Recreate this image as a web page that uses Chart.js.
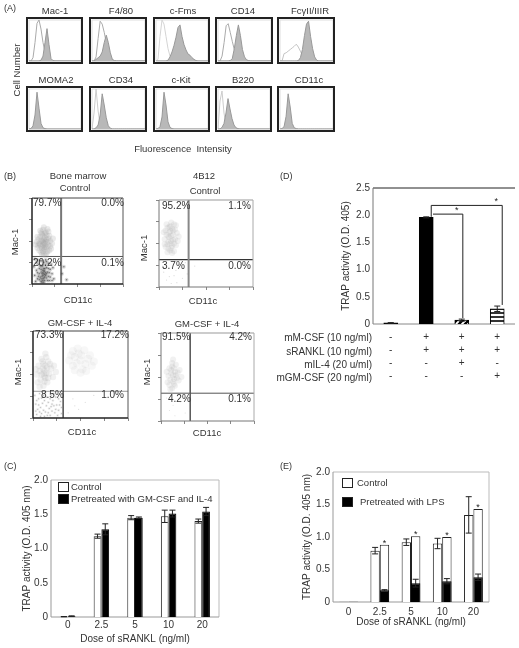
<!DOCTYPE html>
<html>
<head>
<meta charset="utf-8">
<title>Figure</title>
<script src="https://cdn.jsdelivr.net/npm/chart.js@4"></script>
<style>
html,body{margin:0;padding:0;background:#fff;}
#page{position:relative;width:519px;height:648px;overflow:hidden;font-family:"Liberation Sans",Arial,sans-serif;color:#333;filter:blur(0.35px);}
canvas{position:absolute;}
.t{position:absolute;white-space:pre;line-height:1;}
</style>
</head>
<body>
<div id="page"></div>
<script>
// panel A histograms, one count per channel bin
var macFill =  [0,0,0,0,0,0,2,12,45,79,40,6,1,0,0,0,0,0,0,0,0,0,0,0,0,0,0];
var macOpen =  [0,0,8,45,92,100,78,45,22,8,2,0,0,0,0,0,0,0,0,0,0,0,0,0,0,0,0];
var f480Fill = [0,0,4,8,12,22,45,63,45,20,4,1,0,0,0,0,0,0,0,0,0,0,0,0,0,0,0];
var f480Open = [0,0,10,55,97,90,70,45,25,10,3,0,0,0,0,0,0,0,0,0,0,0,0,0,0,0,0];
var fmsFill =  [0,0,0,0,0,0,2,10,22,38,58,82,88,60,40,27,17,14,8,4,1,0,0,0,0,0,0];
var fmsOpen =  [0,4,60,100,90,60,30,12,5,2,0,0,0,0,0,0,0,0,0,0,0,0,0,0,0,0,0];
var cd14Fill = [0,0,0,0,0,0,1,6,30,62,88,62,28,10,3,1,0,0,0,0,0,0,0,0,0,0,0];
var cd14Open = [0,0,12,45,86,91,70,48,28,14,6,2,0,0,0,0,0,0,0,0,0,0,0,0,0,0,0];
var fcFill =   [0,0,0,0,0,0,0,0,0,1,8,28,62,90,97,60,30,10,2,0,0,0,0,0,0,0,0];
var fcOpen =   [0,0,18,20,24,28,32,36,41,34,24,14,6,2,0,0,0,0,0,0,0,0,0,0,0,0,0];
var momaFill = [0,1,8,35,92,52,14,3,1,0,0,0,0,0,0,0,0,0,0,0,0,0,0,0,0,0,0];
var cd34Fill = [0,0,3,10,35,88,60,28,8,2,0,0,0,0,0,0,0,0,0,0,0,0,0,0,0,0,0];
var cd34Open = [0,40,100,45,10,2,0,0,0,0,0,0,0,0,0,0,0,0,0,0,0,0,0,0,0,0,0];
var kitFill =  [0,1,6,30,92,60,18,4,1,0,0,0,0,0,0,0,0,0,0,0,0,0,0,0,0,0,0];
var b220Fill = [0,0,4,14,40,76,50,26,10,3,1,0,0,0,0,0,0,0,0,0,0,0,0,0,0,0,0];
var b220Open = [0,70,95,40,8,0,0,0,0,0,0,0,0,0,0,0,0,0,0,0,0,0,0,0,0,0,0];
var cd11Fill = [0,1,6,32,88,55,14,3,1,0,0,0,0,0,0,0,0,0,0,0,0,0,0,0,0,0,0];
var histBins = macFill.map(function(v,i){return i;});

// panel B events as [CD11c, Mac-1] in plot percent
var bmUpper = [[13,48],[10,44],[16,52],[12,56],[8,47],[18,45],[14,40],[11,51],[15,60],[9,55],[17,38],[13,35],[6,42],[20,50],[7,52],[19,56],[12,63],[16,43],[10,37],[14,54],[11,41],[18,61],[5,49],[22,47],[13,66],[9,62],[15,33],[21,41],[8,39],[17,49],[12,45],[14,47],[10,50],[16,57],[13,52],[11,58],[15,46],[9,46],[18,53],[7,45],[20,44],[12,38],[14,59],[16,36],[6,55],[19,39],[10,60],[13,42],[11,34],[17,64],[4,46],[23,53],[15,50],[12,49],[14,43]];
var bmLower = [[13,12],[11,9],[14,15],[12,6],[15,10],[10,14],[13,18],[16,7],[9,8],[12,13],[14,4],[11,20],[17,14],[8,12],[15,22],[6,6],[18,9],[13,25],[10,3],[20,17],[5,16],[12,16],[14,8],[16,19],[7,23],[19,4],[3,10],[22,12],[11,27],[16,26],[8,18],[4,3],[21,23],[13,2],[9,21],[18,24],[6,28],[24,6],[2,20],[15,13],[12,10],[13,7],[14,11],[11,12],[10,6],[17,4],[7,9],[19,13],[5,25],[23,19],[15,28],[9,27],[12,22],[14,18],[10,17],[16,12],[8,5],[6,13],[20,8],[13,15],[12,4],[3,29],[18,18],[11,2],[22,4],[33,12],[38,5],[35,20]];
var b12Upper = [[13,59],[10,52],[15,65],[12,70],[8,60],[17,55],[14,47],[11,63],[16,72],[9,68],[18,48],[12,42],[6,55],[19,62],[7,46],[13,74],[15,54],[10,44],[14,67],[11,57],[17,66],[5,63],[20,53],[12,50],[9,40],[16,41],[8,72],[13,53],[11,69],[15,60],[10,58],[14,39],[7,65],[18,71],[12,64],[16,50],[9,49],[13,45],[21,58],[6,49]];
var b12Lower = [[8,8],[14,22],[19,5],[5,17],[11,12],[22,26],[16,13],[7,26],[25,10],[13,4],[4,24],[18,19],[30,15],[38,24],[28,28]];
var gmUpperLeft = [[12,55],[9,50],[15,58],[11,62],[7,54],[17,51],[13,46],[10,65],[14,70],[6,60],[19,57],[12,42],[8,44],[16,65],[11,37],[21,47],[4,50],[13,74],[15,41],[10,57],[18,62],[5,41],[9,68],[14,52],[22,60],[12,48],[16,46],[7,36],[11,51],[13,60],[24,53],[3,56]];
var gmUpperRight = [[50,66],[44,70],[55,62],[48,74],[42,60],[58,68],[52,56],[46,63],[60,72],[40,72],[54,78],[50,52],[62,60],[38,66],[47,80],[56,54],[44,55],[64,65],[51,72],[42,77]];
var gmLowerLeft = [[4,4],[8,12],[13,7],[18,3],[22,14],[27,9],[6,22],[11,26],[16,18],[24,24],[29,19],[3,16],[9,5],[14,14],[20,8],[26,3],[7,28],[12,20],[19,26],[30,5],[5,10],[10,17],[15,3],[21,20],[28,27],[2,26],[17,11],[23,6],[13,29],[8,2],[25,15],[11,9],[18,22],[30,12],[4,20],[16,6],[22,28],[6,15],[20,16],[27,22],[9,23],[14,24],[24,10],[3,8],[12,2],[28,15],[19,13],[7,7]];
var gmLowerRight = [[42,22],[48,10],[55,18],[37,6],[64,26],[44,14]];
var gm12Upper = [[13,52],[10,47],[15,56],[12,62],[8,51],[17,49],[14,42],[11,58],[16,64],[9,60],[19,46],[12,37],[7,44],[18,55],[13,70],[15,40],[10,36],[14,48],[11,54],[20,58],[6,56],[13,45],[16,52],[9,41],[12,66],[22,50],[14,60]];
var gm12Lower = [[9,12],[15,6],[21,22],[6,26],[13,18],[26,9]];

// panel C
var doses = ['0','2.5','5','10','20'];
var gmControl = [0.005,1.18,1.45,1.47,1.40];
var gmControlErr = [0.002,0.03,0.03,0.09,0.03];
var gmTreated = [0.012,1.28,1.45,1.51,1.54];
var gmTreatedErr = [0.005,0.08,0.01,0.05,0.06];

// panel D
var trapGroups = ['none','mM-CSF + sRANKL','+ mIL-4','+ mGM-CSF'];
var trapValues = [0.02,1.96,0.07,0.28];
var trapErr = [0.005,0.01,0.02,0.05];
var rowNames = ['mM-CSF (10 ng/ml)','sRANKL (10 ng/ml)','mIL-4 (20 u/ml)','mGM-CSF (20 ng/ml)'];
var rowMcsf =  ['-','+','+','+'];
var rowRankl = ['-','+','+','+'];
var rowIl4 =   ['-','-','+','-'];
var rowGm =    ['-','-','-','+'];
var bracketFrom =  [1.19,1.14];
var bracketTo =    [2.03,3.14];
var bracketLevel = [2.02,2.18];
var bracketFootL = [2.02,1.97];
var bracketFootR = [0.11,0.35];

// panel E
var lpsLeft = [0.003,0.79,0.92,0.90,1.34];
var lpsLeftErr = [0,0.05,0.05,0.08,0.28];
var lpsRight = [0.003,0.88,1.01,1.00,1.43];
var lpsTreated = [0.002,0.18,0.29,0.32,0.38];
var lpsTreatedErr = [0,0.01,0.06,0.04,0.05];
var lpsStars = [null,0.93,1.06,1.05,1.48];

var page = document.getElementById('page');
var FONT = '"Liberation Sans",Arial,sans-serif';

Chart.defaults.font.family = FONT;
Chart.defaults.color = '#333';
Chart.defaults.animation = false;
Chart.defaults.responsive = false;
Chart.defaults.plugins.legend.display = false;
Chart.defaults.plugins.tooltip.enabled = false;

// x,y is the anchor: align l/c/r, vertically centred
function label(text, x, y, align, size, rotate) {
    var d = document.createElement('div');
    d.className = 't';
    d.textContent = text;
    d.style.left = x + 'px';
    d.style.top = y + 'px';
    d.style.fontSize = (size || 9.5) + 'px';
    var tx = align === 'r' ? '-100%' : (align === 'l' ? '0' : '-50%');
    d.style.transform = 'translate(' + tx + ',-50%)' + (rotate ? ' rotate(-90deg)' : '');
    page.appendChild(d);
}

function makeCanvas(x, y, w, h) {
    var c = document.createElement('canvas');
    c.width = w;
    c.height = h;
    c.style.left = x + 'px';
    c.style.top = y + 'px';
    page.appendChild(c);
    return c.getContext('2d');
}

// plot border, side by side so panels can differ
var framePlugin = {
    id: 'frame',
    beforeDatasetsDraw: function(chart, args, o) {
        if (o.under) drawFrame(chart, o.under);
    },
    afterDatasetsDraw: function(chart, args, o) {
        if (o.over) drawFrame(chart, o.over);
    }
};
function drawFrame(chart, sides) {
    var a = chart.chartArea, ctx = chart.ctx;
    var pts = {
        top: [a.left, a.top, a.right, a.top],
        right: [a.right, a.top, a.right, a.bottom],
        bottom: [a.left, a.bottom, a.right, a.bottom],
        left: [a.left, a.top, a.left, a.bottom]
    };
    ctx.save();
    Object.keys(sides).forEach(function(k) {
        var p = pts[k];
        ctx.strokeStyle = sides[k][0];
        ctx.lineWidth = sides[k][1];
        ctx.beginPath();
        ctx.moveTo(p[0], p[1]);
        ctx.lineTo(p[2], p[3]);
        ctx.stroke();
    });
    ctx.restore();
}

// error bars, read from dataset.err
var errorPlugin = {
    id: 'errbars',
    afterDatasetsDraw: function(chart) {
        var ctx = chart.ctx, y = chart.scales.y;
        ctx.save();
        ctx.strokeStyle = '#222';
        ctx.lineWidth = 1;
        chart.data.datasets.forEach(function(ds, i) {
            if (!ds.err) return;
            chart.getDatasetMeta(i).data.forEach(function(bar, j) {
                if (!ds.err[j]) return;
                var up = y.getPixelForValue(ds.data[j] + ds.err[j]);
                var dn = y.getPixelForValue(ds.data[j] - ds.err[j]);
                ctx.beginPath();
                ctx.moveTo(bar.x - 3, up); ctx.lineTo(bar.x + 3, up);
                ctx.moveTo(bar.x, up); ctx.lineTo(bar.x, dn);
                ctx.moveTo(bar.x - 3, dn); ctx.lineTo(bar.x + 3, dn);
                ctx.stroke();
            });
        });
        ctx.restore();
    }
};

// ---- panel A
function histogram(frame, series) {
    var w = frame[2] - frame[0], h = frame[3] - frame[1];
    var sets = [{
        data: series[0], fill: 'origin', backgroundColor: '#b8b8b8',
        borderColor: '#999', borderWidth: 1, pointRadius: 0
    }];
    if (series[1]) {
        sets.push({
            data: series[1], fill: false, borderColor: series[2] || '#aaa',
            borderWidth: 1, pointRadius: 0
        });
    }
    new Chart(makeCanvas(frame[0], frame[1], w, h), {
        type: 'line',
        data: { labels: histBins, datasets: sets },
        options: {
            layout: { padding: { left: 3, right: 2, top: 3, bottom: 3 } },
            scales: {
                x: { display: false, offset: false },
                y: { display: false, min: 0, max: 100 }
            },
            plugins: {
                frame: { under: { top: ['#ddd', 1], right: ['#ddd', 1], left: ['#ddd', 1], bottom: ['#bbb', 1] } }
            }
        },
        plugins: [framePlugin, {
            id: 'outer',
            afterDraw: function(chart) {
                var c = chart.ctx;
                c.save();
                c.strokeStyle = '#222';
                c.lineWidth = 2;
                c.strokeRect(1, 1, w - 2, h - 2);
                c.restore();
            }
        }]
    });
}
var histTitles = ['Mac-1','F4/80','c-Fms','CD14','Fc\u03b3II/IIIR','MOMA2','CD34','c-Kit','B220','CD11c'];
var histX = [[26,83],[89,147],[153,210],[215,273],[277,335],[26,83],[89,147],[153,210],[215,272],[277,335]];
var histTitleX = [55,121,183,243,310,56,121,181,243,309];
var histSeries = [
    [macFill,macOpen,'#aaa'],[f480Fill,f480Open,'#aaa'],[fmsFill,fmsOpen,'#d4d4d4'],[cd14Fill,cd14Open,'#aaa'],[fcFill,fcOpen,'#c4c4c4'],
    [momaFill],[cd34Fill,cd34Open,'#ccc'],[kitFill],[b220Fill,b220Open,'#ccc'],[cd11Fill]
];
histTitles.forEach(function(t, i) {
    var top = i < 5;
    histogram([histX[i][0], top ? 17 : 86, histX[i][1], top ? 64 : 132], histSeries[i]);
    label(t, histTitleX[i], top ? 11 : 80, 'c');
});
label('Cell Number', 17, 70, 'c', 9.5, true);
label('Fluorescence  Intensity', 183, 149, 'c');

// ---- panel B
function flowPlot(frame, layers, gates, border) {
    var ml = 5, mt = 1, mr = 1, mb = 4;
    var sets = layers.map(function(l) {
        return { data: l[0], backgroundColor: l[1], pointRadius: l[2], pointBorderWidth: 0, showLine: false };
    });
    sets.push({ data: [[gates[0],0],[gates[0],100]], showLine: true, borderColor: gates[2], borderWidth: gates[3], pointRadius: 0 });
    sets.push({ data: [[0,gates[1]],[100,gates[1]]], showLine: true, borderColor: gates[4], borderWidth: gates[5], pointRadius: 0 });
    var axis = function(fit) {
        return {
            min: 0, max: 100,
            border: { display: false },
            grid: { drawOnChartArea: false, tickLength: 3, color: '#888' },
            ticks: { display: false, stepSize: 25 },
            afterFit: fit
        };
    };
    new Chart(makeCanvas(frame[0] - ml, frame[1] - mt, frame[2] - frame[0] + ml + mr, frame[3] - frame[1] + mt + mb), {
        type: 'scatter',
        data: { datasets: sets },
        options: {
            layout: { padding: { top: mt, right: mr } },
            scales: {
                x: axis(function(s) { s.height = mb; }),
                y: axis(function(s) { s.width = ml; })
            },
            plugins: { frame: { over: border } }
        },
        plugins: [framePlugin]
    });
}
var cloud = 'rgba(160,160,160,0.22)', pale = 'rgba(170,170,170,0.16)', faint = 'rgba(170,170,170,0.09)', speck = 'rgba(30,30,30,0.55)', dust = 'rgba(90,90,90,0.22)', haze = 'rgba(110,110,110,0.14)';
var darkBorder = { top: ['#444',1], right: ['#555',1], bottom: ['#222',1.5], left: ['#222',1.5] };
var greyBorder = { top: ['#999',1], right: ['#aaa',1], bottom: ['#777',1], left: ['#777',1] };

flowPlot([32,195,126,284], [[bmUpper,cloud,3],[bmLower,dust,2],[bmLower,speck,0.8]], [32,32,'#777',2,'#555',1], darkBorder);
flowPlot([159,197,256,287], [[b12Upper,pale,3],[b12Lower,dust,0.6]], [31.5,31.5,'#888',2,'#333',1.2], greyBorder);
flowPlot([33,328,131,418], [[gmUpperLeft,pale,3.2],[gmUpperRight,faint,4],[gmLowerLeft,haze,1.3],[gmLowerLeft,speck,0.4],[gmLowerRight,dust,0.6]], [31.7,30.7,'#222',1.2,'#999',1], darkBorder);
flowPlot([161,330,257,421], [[gm12Upper,pale,3],[gm12Lower,dust,0.5]], [31.4,31.6,'#555',1.5,'#555',1], greyBorder);

var flowLabels = [
    ['79.7%',33,203,'l'],['0.0%',124,203,'r'],['20.2%',33,263,'l'],['0.1%',124,263,'r'],
    ['95.2%',162,206,'l'],['1.1%',251,206,'r'],['3.7%',162,266,'l'],['0.0%',251,266,'r'],
    ['73.3%',35,335,'l'],['17.2%',129,335,'r'],['8.5%',41,395,'l'],['1.0%',124,395,'r'],
    ['91.5%',162,337,'l'],['4.2%',252,337,'r'],['4.2%',168,399,'l'],['0.1%',251,399,'r']
];
flowLabels.forEach(function(l) { label(l[0], l[1], l[2], l[3], 10); });
label('Bone marrow', 78, 176, 'c');
label('Control', 75, 188, 'c');
label('4B12', 204, 176, 'c');
label('Control', 205, 191, 'c');
label('GM-CSF + IL-4', 80, 323, 'c');
label('GM-CSF + IL-4', 207, 324, 'c');
[[15,242],[144,248],[18,372],[147,372]].forEach(function(p) { label('Mac-1', p[0], p[1], 'c', 9.5, true); });
[[78,300],[203,301],[82,432],[207,433]].forEach(function(p) { label('CD11c', p[0], p[1], 'c', 9.5); });

// ---- panels C, D, E
function yTick(v) { return v === 0 ? '0' : v.toFixed(1); }
var softBorder = { top: ['#bbb',1], right: ['#bbb',1], bottom: ['#999',1], left: ['#999',1] };

function makePattern(size, paint) {
    var c = document.createElement('canvas');
    c.width = size; c.height = size;
    var g = c.getContext('2d');
    g.fillStyle = '#fff';
    g.fillRect(0, 0, size, size);
    g.strokeStyle = '#000';
    paint(g);
    return g.createPattern(c, 'repeat');
}
var hatch = makePattern(6, function(g) {
    g.lineWidth = 2.4;
    g.beginPath();
    g.moveTo(-1, 7); g.lineTo(7, -1);
    g.moveTo(-3, 3); g.lineTo(3, -3);
    g.moveTo(3, 9); g.lineTo(9, 3);
    g.stroke();
});
var stripes = makePattern(4, function(g) {
    g.lineWidth = 1.6;
    g.beginPath();
    g.moveTo(0, 2); g.lineTo(4, 2);
    g.stroke();
});

function barScales(yMax, yTitle, ml, mb, xTitle, tickPad) {
    var x = {
        border: { display: false },
        grid: { display: false, drawTicks: false },
        ticks: { font: { size: 10 }, padding: tickPad, maxRotation: 0, autoSkip: false },
        afterFit: function(s) { s.height = mb; }
    };
    if (xTitle) x.title = { display: true, text: xTitle, font: { size: 10 }, padding: 0 };
    return {
        x: x,
        y: {
            min: 0, max: yMax,
            border: { display: false },
            grid: { display: false, drawTicks: false },
            ticks: { stepSize: 0.5, font: { size: 10 }, padding: 3, callback: yTick },
            title: { display: true, text: yTitle, font: { size: 10 }, padding: 0 },
            afterFit: function(s) { s.width = ml; }
        }
    };
}

// C - the y scale keeps 9px above the top tick, so canvases start 9px over the plot
var cScales = barScales(2, 'TRAP activity (O.D. 405 nm)', 30, 28, 'Dose of sRANKL (ng/ml)', 2);
new Chart(makeCanvas(21, 471, 200, 174), {
    type: 'bar',
    data: {
        labels: doses,
        datasets: [
            { data: gmControl, err: gmControlErr, backgroundColor: '#fff', borderColor: '#222', borderWidth: 1 },
            { data: gmTreated, err: gmTreatedErr, backgroundColor: '#000', borderColor: '#000', borderWidth: 1 }
        ]
    },
    options: {
        layout: { padding: { right: 2 } },
        categoryPercentage: 0.46,
        barPercentage: 1,
        scales: cScales,
        plugins: { frame: { under: softBorder } }
    },
    plugins: [framePlugin, errorPlugin]
});

// D
var dLabels = trapGroups.map(function(g, i) { return [rowMcsf[i], rowRankl[i], rowIl4[i], rowGm[i]]; });
var dScales = barScales(2.5, 'TRAP activity (O.D. 405)', 33, 62, null, 7);
dScales.x.ticks.font = { size: 10, lineHeight: 1.3 };
new Chart(makeCanvas(340, 179, 176, 207), {
    type: 'bar',
    data: {
        labels: dLabels,
        datasets: [{
            data: trapValues, err: trapErr,
            backgroundColor: ['#000','#000',hatch,stripes],
            borderColor: '#000', borderWidth: 1, barThickness: 14
        }]
    },
    options: {
        layout: { padding: { right: 1 } },
        scales: dScales,
        plugins: { frame: { under: { top: ['#222',1], left: ['#777',1], bottom: ['#888',1] } } }
    },
    plugins: [framePlugin, errorPlugin, {
        id: 'brackets',
        afterDatasetsDraw: function(chart) {
            var c = chart.ctx, x = chart.scales.x, y = chart.scales.y;
            c.save();
            c.strokeStyle = '#222';
            c.fillStyle = '#222';
            c.lineWidth = 1;
            c.font = '9px ' + FONT;
            c.textAlign = 'center';
            bracketFrom.forEach(function(f, i) {
                var xa = x.getPixelForValue(f), xb = x.getPixelForValue(bracketTo[i]);
                var lvl = y.getPixelForValue(bracketLevel[i]);
                c.beginPath();
                c.moveTo(xa, y.getPixelForValue(bracketFootL[i]));
                c.lineTo(xa, lvl);
                c.lineTo(xb, lvl);
                c.lineTo(xb, y.getPixelForValue(bracketFootR[i]));
                c.stroke();
                c.fillText('*', xb - 6, lvl - 1);
            });
            c.restore();
        }
    }]
});
[338,351.5,365,377.5].forEach(function(y, i) { label(rowNames[i], 372, y, 'r', 10); });

// E
var eScales = barScales(2, 'TRAP activity (O.D. 405 nm)', 32, 26, 'Dose of sRANKL (ng/ml)', 4);
eScales.x.stacked = true;
eScales.y.stacked = false;
new Chart(makeCanvas(301, 463, 190, 165), {
    type: 'bar',
    data: {
        labels: doses,
        datasets: [
            { data: lpsLeft, err: lpsLeftErr, stack: 'left', backgroundColor: '#fff', borderColor: '#222', borderWidth: 1 },
            { data: lpsTreated, err: lpsTreatedErr, stack: 'right', backgroundColor: '#000', borderColor: '#000', borderWidth: 1 },
            { data: lpsRight, stack: 'right', backgroundColor: '#fff', borderColor: '#222', borderWidth: 1 }
        ]
    },
    options: {
        layout: { padding: { right: 2 } },
        categoryPercentage: 0.6,
        barPercentage: 1,
        scales: eScales,
        plugins: { frame: { under: softBorder } }
    },
    plugins: [framePlugin, errorPlugin, {
        id: 'stars',
        afterDatasetsDraw: function(chart) {
            var c = chart.ctx, y = chart.scales.y, bars = chart.getDatasetMeta(2).data;
            c.save();
            c.fillStyle = '#222';
            c.font = '9px ' + FONT;
            c.textAlign = 'center';
            lpsStars.forEach(function(v, i) {
                if (v !== null) c.fillText('*', bars[i].x, y.getPixelForValue(v) + 4);
            });
            c.restore();
        }
    }]
});

// html legends for C and E
function legendRow(x, y, fill, text, textX) {
    var b = document.createElement('div');
    b.style.cssText = 'position:absolute;box-sizing:border-box;width:11px;height:10px;border:1px solid #222;left:' + x + 'px;top:' + y + 'px;background:' + fill;
    page.appendChild(b);
    label(text, textX, y + 5, 'l');
}
legendRow(58, 482, '#fff', 'Control', 71);
legendRow(58, 494, '#000', 'Pretreated with GM-CSF and IL-4', 71);
legendRow(342, 478, '#fff', 'Control', 357);
legendRow(342, 497, '#000', 'Pretreated with LPS', 360);

// panel letters
[['(A)',4,8],['(B)',4,176],['(C)',4,466],['(D)',280,176],['(E)',280,466]].forEach(function(l) {
    label(l[0], l[1], l[2], 'l', 9);
});
</script>
</body>
</html>
